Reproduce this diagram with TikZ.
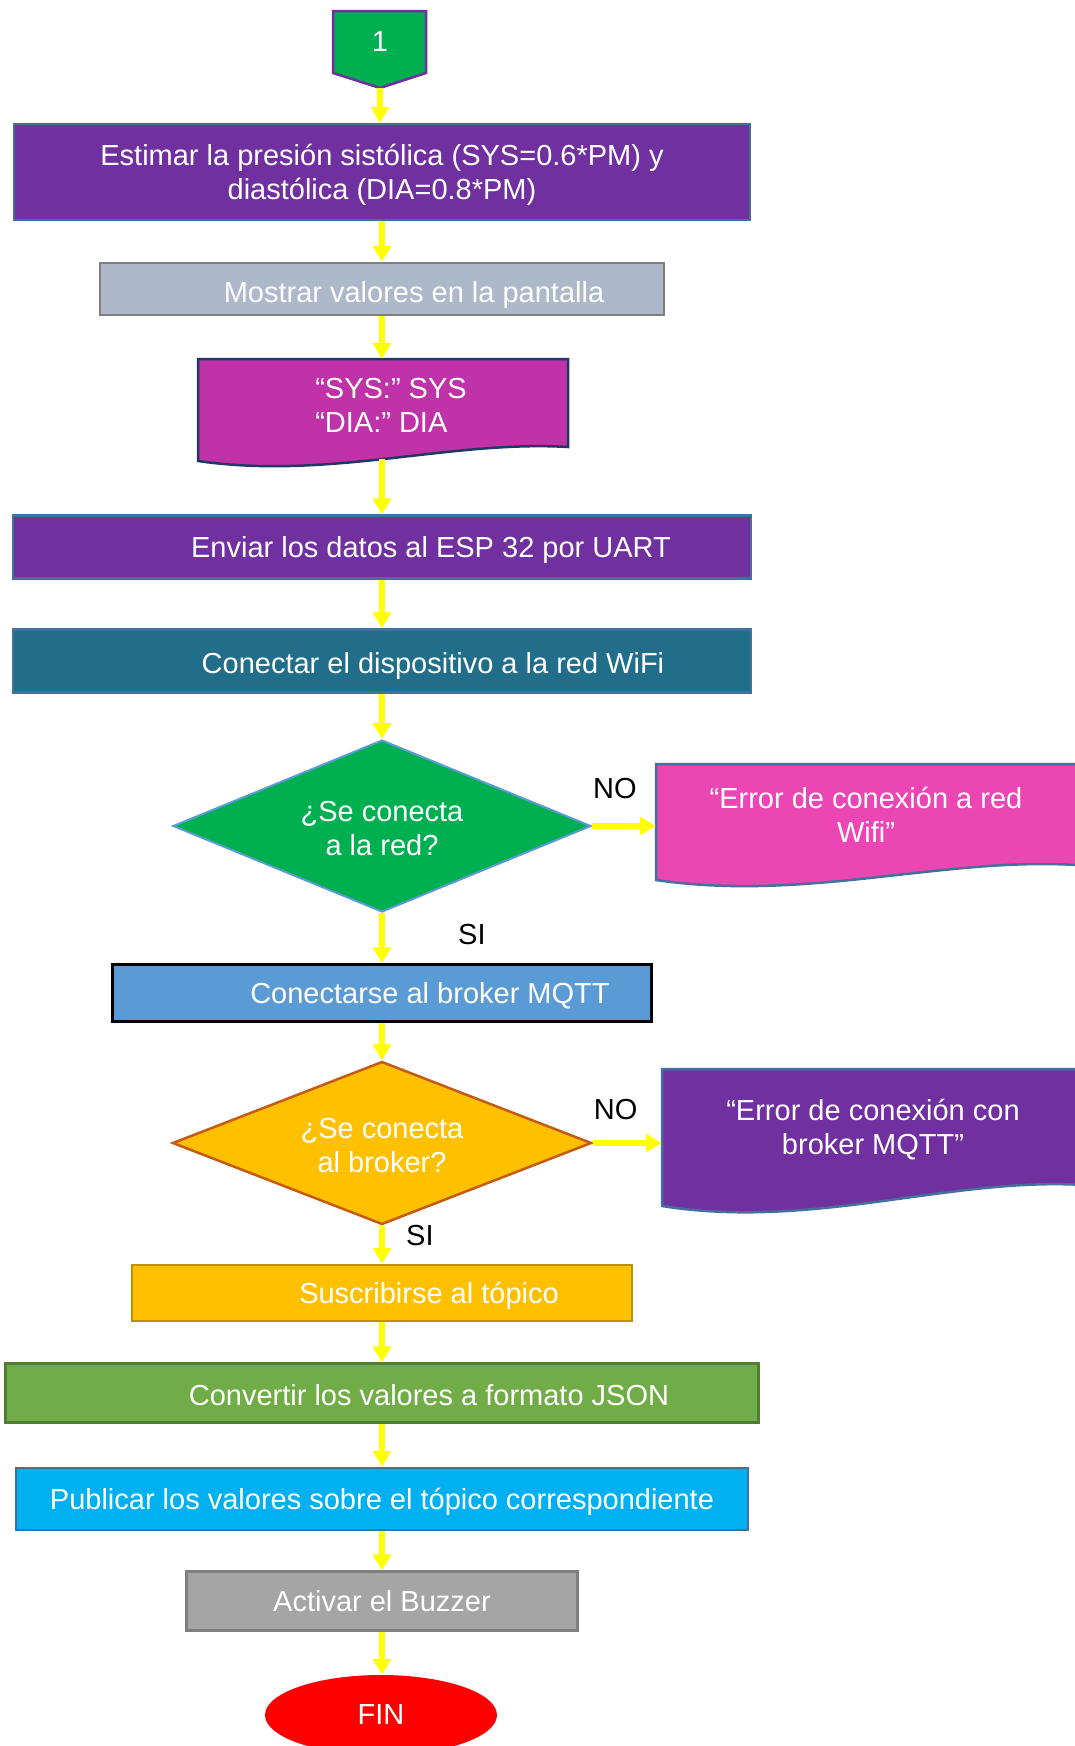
\documentclass[tikz,border=0pt]{standalone}
\usepackage{fontspec}
\setmainfont{Liberation Sans}
\usetikzlibrary{positioning,shapes.geometric,arrows.meta}

\definecolor{cgreen}{HTML}{00B050}
\definecolor{cpurple}{HTML}{7030A0}
\definecolor{cblue}{HTML}{41719C}
\definecolor{cgrayblue}{HTML}{ADB9CA}
\definecolor{cgray}{HTML}{7F7F7F}
\definecolor{cmagenta}{RGB}{192,51,168}
\definecolor{cnavy}{HTML}{203864}
\definecolor{cteal}{RGB}{33,110,138}
\definecolor{cltblue}{HTML}{5B9BD5}
\definecolor{cpink}{RGB}{236,70,180}
\definecolor{cgold}{HTML}{FFC000}
\definecolor{corange}{HTML}{C55A11}
\definecolor{cdarkgold}{HTML}{BF9000}
\definecolor{cgreenlt}{HTML}{70AD47}
\definecolor{cgreendk}{HTML}{507E32}
\definecolor{ccyan}{HTML}{00B0F0}
\definecolor{cgraymid}{HTML}{A5A5A5}
\definecolor{arrowyellow}{HTML}{FFFF00}

\begin{document}
\begin{tikzpicture}[x=1pt,y=-1pt,
every node/.style={font=\fontsize{29}{34}\selectfont},
box/.style={draw,rectangle,line width=2.5pt,text=white,inner sep=0pt,align=center,text depth=0pt},
txt/.style={text=white,inner sep=0pt},
lbl/.style={text=black,inner sep=0pt},
ask/.style={diamond,aspect=2.4,line width=2.5pt,inner sep=0pt},
flow/.style={draw=arrowyellow,line width=5.5pt,-{Triangle[width=18pt,length=16pt]}}]
\useasboundingbox (0,0) rectangle (1074,1746);

% connector and wavy documents, text goes on top
\filldraw[fill=cgreen,draw=cpurple,line width=2.5pt]
  (333,11) -- (426,11) -- (426,73) -- (380,88) -- (333,73) -- cycle;
\filldraw[fill=cmagenta,draw=cnavy,line width=2.5pt]
  (198,359) -- (568,359) -- (568,447) .. controls (450,440) and (330,480) .. (198,461) -- cycle;
\filldraw[fill=cpink,draw=cblue,line width=2.5pt]
  (656,764) -- (1076,764) -- (1076,865) .. controls (942,857) and (806,902) .. (656,880) -- cycle;
\filldraw[fill=cpurple,draw=cblue,line width=2.5pt]
  (662,1069) -- (1084,1069) -- (1084,1185) .. controls (949,1177) and (813,1230) .. (662,1206) -- cycle;

\node (one) [txt,minimum width=93pt,minimum height=62pt] at (380,42) {1};
\coordinate (one-tip) at (380,88);

\node (estimar) [box,fill=cpurple,draw=cblue,minimum width=736pt,minimum height=96pt] at (382,172)
  {Estimar la presión sistólica (SYS=0.6*PM) y\\diastólica (DIA=0.8*PM)};
\node (mostrar) [box,fill=cgrayblue,draw=cgray,minimum width=564pt,minimum height=52pt,
    label={[name=mostrar-t,txt,xshift=32pt,yshift=-6pt]center:Mostrar valores en la pantalla}] at (382,289) {};
\node (sysdoc) [txt,minimum width=370pt,minimum height=88pt,
    label={[name=sysdoc-t,txt,align=left,xshift=8pt,yshift=-2pt]center:“SYS:” SYS\\“DIA:” DIA}] at (383,403) {};
\coordinate (sysdoc-b) at (382,459);

\node (enviar) [box,fill=cpurple,draw=cblue,minimum width=738pt,minimum height=63pt,
    label={[name=enviar-t,txt,xshift=49pt,yshift=-3pt]center:Enviar los datos al ESP 32 por UART}] at (382,547) {};
\node (wifi) [box,fill=cteal,draw=cblue,minimum width=738pt,minimum height=63pt,
    label={[name=wifi-t,txt,xshift=51pt,yshift=-5pt]center:Conectar el dispositivo a la red WiFi}] at (382,661) {};

% first check: network
\node (q1) [ask,fill=cgreen,draw=cltblue,line width=2pt,minimum width=418pt,minimum height=172pt,
    label={[name=q1-t,txt,align=center,yshift=-3pt]center:¿Se conecta\\a la red?}] at (382,826) {};
\node (err1) [txt,minimum width=420pt,minimum height=102pt,align=center] at (866,815)
  {“Error de conexión a red\\Wifi”};
\node (no1) [lbl,above right=27pt and 1pt of q1.east] {NO};
\node (si1) [lbl,below right=11pt and 76pt of q1.south] {SI};

\node (mqtt) [box,fill=cltblue,draw=black,minimum width=539pt,minimum height=57pt,
    label={[name=mqtt-t,txt,xshift=48pt,yshift=-3pt]center:Conectarse al broker MQTT}] at (382,993) {};

% second check: broker
\node (q2) [ask,fill=cgold,draw=corange,minimum width=419pt,minimum height=163pt,
    label={[name=q2-t,txt,align=center,yshift=-3pt]center:¿Se conecta\\al broker?}] at (382,1143) {};
\node (err2) [txt,minimum width=422pt,minimum height=122pt,align=center] at (873,1130)
  {“Error de conexión con\\broker MQTT”};
\node (no2) [lbl,above right=23pt and 1pt of q2.east] {NO};
\node (si2) [lbl,below right=-1pt and 24pt of q2.south] {SI};

\node (topico) [box,fill=cgold,draw=cdarkgold,minimum width=500pt,minimum height=56pt,
    label={[name=topico-t,txt,xshift=47pt,yshift=-3pt]center:Suscribirse al tópico}] at (382,1293) {};
\node (json) [box,fill=cgreenlt,draw=cgreendk,minimum width=753pt,minimum height=59pt,
    label={[name=json-t,txt,xshift=47pt,yshift=-2pt]center:Convertir los valores a formato JSON}] at (382,1393) {};
\node (publicar) [box,fill=ccyan,draw=cblue,minimum width=732pt,minimum height=62pt] at (382,1499)
  {Publicar los valores sobre el tópico correspondiente};
\node (buzzer) [box,fill=cgraymid,draw=cgray,minimum width=391pt,minimum height=59pt] at (382,1601)
  {Activar el Buzzer};
\node (fin) [ellipse,fill=red,text=white,inner sep=0pt,minimum width=232pt,minimum height=80pt] at (381,1715) {FIN};

% arrows
\draw[flow] (one-tip) -- (one-tip |- estimar.north);
\draw[flow] (sysdoc-b) -- (sysdoc-b |- enviar.north);
\foreach \a/\b in {estimar/mostrar,mostrar/sysdoc,enviar/wifi,wifi/q1,q1/mqtt,mqtt/q2,
    q2/topico,topico/json,json/publicar,publicar/buzzer,buzzer/fin}
  \draw[flow] (\a.south) -- (\a.south |- \b.north);
\draw[flow] (q1.east) -- (q1.east -| err1.west);
\draw[flow] (q2.east) -- (q2.east -| err2.west);
\end{tikzpicture}
\end{document}
